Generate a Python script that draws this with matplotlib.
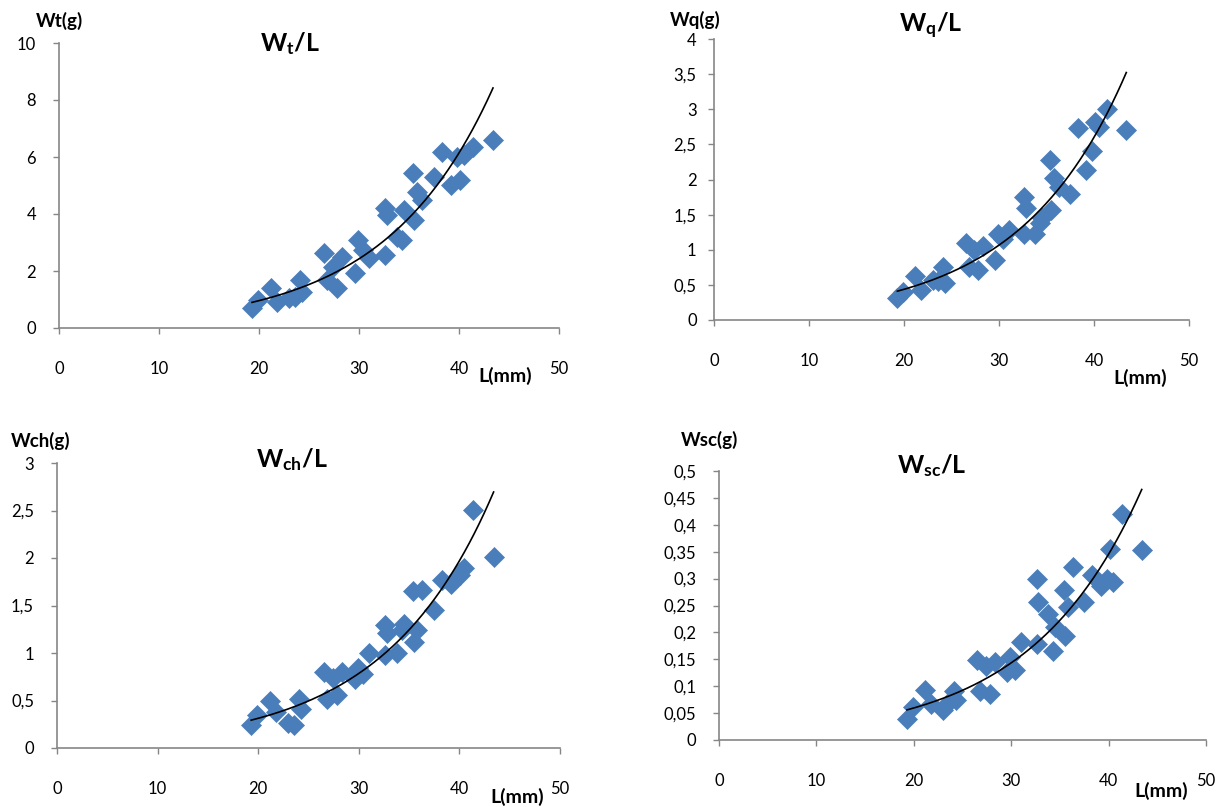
import numpy as np
import matplotlib
matplotlib.use('Agg')
import matplotlib.pyplot as plt
from matplotlib.ticker import FuncFormatter

# ---------------- data ----------------
L = [19.3, 19.9, 21.2, 21.8, 23.0, 23.6, 24.1, 24.3, 26.5, 26.8, 27.4, 27.8,
     28.3, 29.6, 29.9, 30.4, 31.0, 32.6, 32.6, 32.8, 33.8, 34.3, 34.5, 35.4,
     35.5, 35.8, 36.3, 37.5, 38.3, 39.2, 39.8, 40.1, 40.5, 41.4, 43.4]

Wt = [0.69, 0.98, 1.39, 0.92, 1.04, 1.10, 1.68, 1.27, 2.62, 1.68, 2.15, 1.39,
      2.50, 1.92, 3.09, 2.74, 2.45, 2.56, 4.20, 3.96, 3.20, 3.09, 4.14, 5.43,
      3.79, 4.78, 4.49, 5.30, 6.19, 5.02, 6.00, 5.19, 6.07, 6.36, 6.60]

Wq = [0.31, 0.40, 0.62, 0.43, 0.57, 0.55, 0.76, 0.52, 1.09, 0.76, 1.00, 0.71,
      1.05, 0.85, 1.23, 1.15, 1.28, 1.23, 1.75, 1.59, 1.23, 1.38, 1.45, 2.28,
      1.57, 2.02, 1.90, 1.80, 2.73, 2.13, 2.40, 2.82, 2.75, 3.01, 2.71]

Wch = [0.24, 0.35, 0.50, 0.38, 0.26, 0.24, 0.52, 0.41, 0.80, 0.52, 0.74, 0.56,
       0.80, 0.73, 0.84, 0.78, 1.00, 0.98, 1.29, 1.21, 1.00, 1.24, 1.31, 1.65,
       1.12, 1.24, 1.66, 1.45, 1.77, 1.73, 1.80, 1.82, 1.89, 2.51, 2.01]

Wsc = [0.039, 0.062, 0.093, 0.067, 0.055, 0.070, 0.092, 0.075, 0.148, 0.092,
       0.138, 0.086, 0.145, 0.126, 0.154, 0.130, 0.182, 0.179, 0.300, 0.256,
       0.235, 0.166, 0.210, 0.278, 0.194, 0.247, 0.321, 0.256, 0.306, 0.287,
       0.300, 0.355, 0.293, 0.420, 0.354]

x_ticks = [0, 10, 20, 30, 40, 50]
y_ticks_t = [0, 2, 4, 6, 8, 10]
y_ticks_q = [0, 0.5, 1, 1.5, 2, 2.5, 3, 3.5, 4]
y_ticks_ch = [0, 0.5, 1, 1.5, 2, 2.5, 3]
y_ticks_sc = [0, 0.05, 0.1, 0.15, 0.2, 0.25, 0.3, 0.35, 0.4, 0.45, 0.5]

titles = [r'$\mathbf{W_t/L}$', r'$\mathbf{W_q/L}$', r'$\mathbf{W_{ch}/L}$', r'$\mathbf{W_{sc}/L}$']
ylabels = ['Wt(g)', 'Wq(g)', 'Wch(g)', 'Wsc(g)']
xlabel = 'L(mm)'

# ---------------- style ----------------
W, H = 1227, 807
plt.rcParams['font.family'] = ['Lato', 'DejaVu Sans']
plt.rcParams['mathtext.fontset'] = 'custom'
plt.rcParams['mathtext.rm'] = 'Lato'
plt.rcParams['mathtext.bf'] = 'Lato:bold'
plt.rcParams['mathtext.it'] = 'Lato:italic'

blue = '#4A7EBB'
axcol = '#868686'

fig = plt.figure(figsize=(W / 100, H / 100), dpi=100)

def px_axes(x0, x50, ytop, ybot):
    return fig.add_axes([x0 / W, 1 - ybot / H, (x50 - x0) / W, (ybot - ytop) / H])

panels = [
    dict(box=(59, 559, 43, 328), y=Wt, yt=y_ticks_t, title=titles[0], tpos=(290, 44),
         ylab=ylabels[0], ylpos=(59, 21), xlpos=(505, 376), ypad=12),
    dict(box=(714, 1189, 39, 320), y=Wq, yt=y_ticks_q, title=titles[1], tpos=(931, 26),
         ylab=ylabels[1], ylpos=(695, 20), xlpos=(1140, 378), ypad=8),
    dict(box=(57, 560, 463, 748), y=Wch, yt=y_ticks_ch, title=titles[2], tpos=(292, 460),
         ylab=ylabels[2], ylpos=(41, 441), xlpos=(517, 797), ypad=12),
    dict(box=(719, 1206, 471, 740), y=Wsc, yt=y_ticks_sc, title=titles[3], tpos=(932, 466),
         ylab=ylabels[3], ylpos=(710, 440), xlpos=(1161, 791), ypad=12),
]

def comma_fmt(v, pos):
    s = ('%.2f' % v).rstrip('0').rstrip('.')
    return s.replace('.', ',')

for p in panels:
    ax = px_axes(*p['box'])
    xs = np.array(L)
    ys = np.array(p['y'])
    ax.plot(xs, ys, linestyle='none', marker='D', markersize=10.5,
            markerfacecolor=blue, markeredgecolor=blue, markeredgewidth=0.5, zorder=2)
    # exponential trendline (Excel style)
    b, lna = np.polyfit(xs, np.log(ys), 1)
    xx = np.linspace(xs.min(), xs.max(), 200)
    ax.plot(xx, np.exp(lna + b * xx), color='black', linewidth=1.2, zorder=3)

    ax.set_xlim(0, 50)
    ax.set_ylim(p['yt'][0], p['yt'][-1])
    ax.set_xticks(x_ticks)
    ax.set_yticks(p['yt'])
    ax.yaxis.set_major_formatter(FuncFormatter(comma_fmt))
    ax.xaxis.set_major_formatter(FuncFormatter(comma_fmt))
    for s in ['top', 'right']:
        ax.spines[s].set_visible(False)
    for s in ['left', 'bottom']:
        ax.spines[s].set_color(axcol)
        ax.spines[s].set_linewidth(1.2)
    ax.tick_params(axis='both', direction='out', length=4.5, width=1.0, color=axcol,
                   labelsize=12, labelcolor='black')
    ax.tick_params(axis='x', pad=19)
    ax.tick_params(axis='y', pad=p['ypad'])
    ax.set_facecolor('none')

    tx, ty = p['tpos']
    fig.text(tx / W, 1 - ty / H, p['title'], fontsize=18, ha='center', va='center')
    lx, ly = p['ylpos']
    fig.text(lx / W, 1 - ly / H, p['ylab'], fontsize=13.5, fontweight='bold',
             ha='center', va='center')
    xlx, xly = p['xlpos']
    fig.text(xlx / W, 1 - xly / H, xlabel, fontsize=14, fontweight='bold',
             ha='center', va='center')

fig.savefig('out.png', dpi=100)
